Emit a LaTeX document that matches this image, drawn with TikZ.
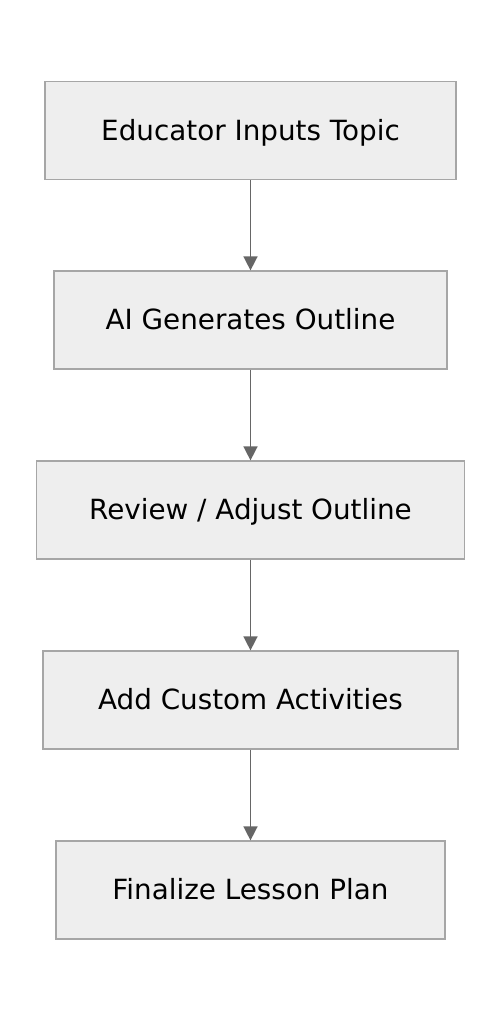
\documentclass[tikz,border=0pt]{standalone}
\usepackage{fontspec}
\setmainfont{DejaVu Sans}
\definecolor{boxfill}{HTML}{EEEEEE}
\definecolor{boxline}{HTML}{A6A6A6}
\definecolor{arrowgray}{HTML}{666666}
\tikzset{
    stepbox/.style={draw=boxline, fill=boxfill, line width=1.2pt, minimum height=98pt, inner sep=0pt, text depth=2pt, font=\fontsize{27.8}{32}\selectfont},
    flow/.style={draw=arrowgray, line width=1.5pt, -{Triangle[length=14pt,width=14pt]}}
}
\usetikzlibrary{arrows.meta}
\begin{document}
\begin{tikzpicture}[x=1pt,y=1pt]
    \useasboundingbox (0,0) rectangle (502,1020);
    \node[stepbox, minimum width=411pt] (inputs) at (250.5,889.5) {Educator Inputs Topic};
    \node[stepbox, minimum width=393pt] (outline) at (250.5,700) {AI Generates Outline};
    \node[stepbox, minimum width=428pt] (review) at (250.5,510) {Review / Adjust Outline};
    \node[stepbox, minimum width=415pt] (custom) at (250.5,320) {Add Custom Activities};
    \node[stepbox, minimum width=389pt] (final) at (250.5,130) {Finalize Lesson Plan};
    \foreach \a/\b in {inputs/outline, outline/review, review/custom, custom/final}
    {
        \draw[flow] (\a) -- (\b);
    }
\end{tikzpicture}
\end{document}
